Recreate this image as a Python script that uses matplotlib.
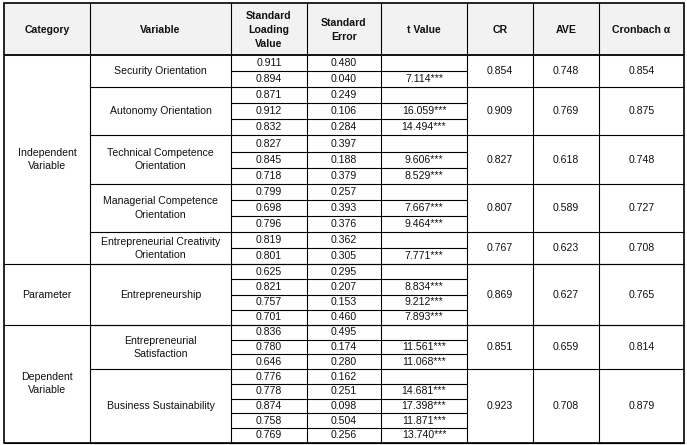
import matplotlib.pyplot as plt

plt.rcParams['font.family'] = ['Liberation Sans', 'DejaVu Sans']

headers = ["Category", "Variable", "Standard\nLoading\nValue", "Standard\nError",
           "t Value", "CR", "AVE", "Cronbach α"]

categories = ["Independent\nVariable", "Parameter", "Dependent\nVariable"]

variables = ["Security Orientation", "Autonomy Orientation",
             "Technical Competence\nOrientation", "Managerial Competence\nOrientation",
             "Entrepreneurial Creativity\nOrientation", "Entrepreneurship",
             "Entrepreneurial\nSatisfaction", "Business Sustainability"]
var_category = [0, 0, 0, 0, 0, 1, 2, 2]

loadings = [[0.911, 0.894], [0.871, 0.912, 0.832], [0.827, 0.845, 0.718],
            [0.799, 0.698, 0.796], [0.819, 0.801], [0.625, 0.821, 0.757, 0.701],
            [0.836, 0.780, 0.646], [0.776, 0.778, 0.874, 0.758, 0.769]]
std_errors = [[0.480, 0.040], [0.249, 0.106, 0.284], [0.397, 0.188, 0.379],
              [0.257, 0.393, 0.376], [0.362, 0.305], [0.295, 0.207, 0.153, 0.460],
              [0.495, 0.174, 0.280], [0.162, 0.251, 0.098, 0.504, 0.256]]
t_values = [[None, 7.114], [None, 16.059, 14.494], [None, 9.606, 8.529],
            [None, 7.667, 9.464], [None, 7.771], [None, 8.834, 9.212, 7.893],
            [None, 11.561, 11.068], [None, 14.681, 17.398, 11.871, 13.740]]
cr = [0.854, 0.909, 0.827, 0.807, 0.767, 0.869, 0.851, 0.923]
ave = [0.748, 0.769, 0.618, 0.589, 0.623, 0.627, 0.659, 0.708]
alpha = [0.854, 0.875, 0.748, 0.727, 0.708, 0.765, 0.814, 0.879]

# layout (pixels)
col_x = [4, 90, 231, 307, 381, 467, 533, 599, 684]
header_top, header_bot = 3, 55
row_h = [16.1, 15.2, 14.7]   # sub-row height per category
fs = 7.6
txt = '#111111'
lw = 0.8

fig = plt.figure(figsize=(6.87, 4.45), dpi=100)
ax = fig.add_axes([0, 0, 1, 1])
ax.set_xlim(0, 687)
ax.set_ylim(445, 0)
ax.axis('off')

def hline(y, x0, x1, w=lw):
    ax.plot([x0, x1], [y, y], color='black', lw=w, solid_capstyle='butt')

def vline(x, y0, y1, w=lw):
    ax.plot([x, x], [y0, y1], color='black', lw=w, solid_capstyle='butt')

def cx(i):
    return (col_x[i] + col_x[i + 1]) / 2

# header
ax.add_patch(plt.Rectangle((col_x[0], header_top), col_x[-1] - col_x[0],
                           header_bot - header_top, color='#f2f2f2', zorder=0))
for i, h in enumerate(headers):
    ax.text(cx(i), (header_top + header_bot) / 2 + 1, h, ha='center', va='center',
            fontsize=fs, fontweight='bold', color=txt, linespacing=1.45)

# body
y = header_bot
cat_start = {}
cat_end = {}
for v, name in enumerate(variables):
    c = var_category[v]
    h = row_h[c]
    n = len(loadings[v])
    y0 = y
    cat_start.setdefault(c, y0)
    for k in range(n):
        ym = y + h / 2
        ax.text(cx(2), ym, f"{loadings[v][k]:.3f}", ha='center', va='center', fontsize=fs, color=txt)
        ax.text(cx(3), ym, f"{std_errors[v][k]:.3f}", ha='center', va='center', fontsize=fs, color=txt)
        if t_values[v][k] is not None:
            ax.text(cx(4), ym, f"{t_values[v][k]:.3f}***", ha='center', va='center', fontsize=fs, color=txt)
        y += h
        if k < n - 1:
            hline(y, col_x[2], col_x[5])
    y1 = y
    cat_end[c] = y1
    ym = (y0 + y1) / 2
    ax.text(cx(1), ym, name, ha='center', va='center', fontsize=fs, color=txt, linespacing=1.4)
    ax.text(cx(5), ym, f"{cr[v]:.3f}", ha='center', va='center', fontsize=fs, color=txt)
    ax.text(cx(6), ym, f"{ave[v]:.3f}", ha='center', va='center', fontsize=fs, color=txt)
    ax.text(cx(7), ym, f"{alpha[v]:.3f}", ha='center', va='center', fontsize=fs, color=txt)
    hline(y1, col_x[1], col_x[-1])

for c, name in enumerate(categories):
    ax.text(cx(0), (cat_start[c] + cat_end[c]) / 2, name, ha='center', va='center',
            fontsize=fs, color=txt, linespacing=1.4)
    hline(cat_end[c], col_x[0], col_x[-1])

bottom = y
for x in col_x[1:-1]:
    vline(x, header_top, bottom)
hline(header_bot, col_x[0], col_x[-1], 1.3)
ax.add_patch(plt.Rectangle((col_x[0], header_top), col_x[-1] - col_x[0], bottom - header_top,
                           fill=False, edgecolor='black', lw=1.2))

fig.savefig('out.png', dpi=100)
